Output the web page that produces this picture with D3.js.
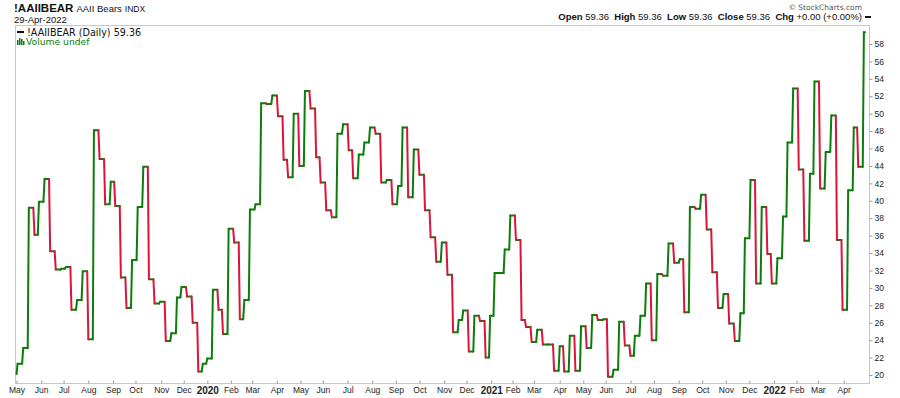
<!DOCTYPE html>
<html>
<head>
<meta charset="utf-8">
<script src="https://cdn.jsdelivr.net/npm/d3@7"></script>
<style>
  html, body { margin: 0; padding: 0; background: #fff; }
  svg { display: block; }
</style>
</head>
<body>
<svg id="chart" width="900" height="398"></svg>
<script>
// ---------------- DATA ----------------
const firstDate = "2019-05-01";
const firstValue = 20.1;
const weekStart = "2019-05-02";   // AAII survey Thursdays
const lastDate = "2022-04-29";
const bearValues = [
  21.3, 23.1, 39.2, 36.1, 39.9, 42.5, 34.2, 32.1, 32.2, 32.4,
  27.5, 28.6, 31.9, 24.1, 48.1, 44.8, 39.6, 42.2, 39.4, 31.2,
  27.7, 33.2, 39.3, 43.9, 31.0, 28.2, 28.4, 23.9, 24.8, 28.9,
  30.1, 29.0, 26.0, 20.4, 21.3, 21.9, 29.8, 27.5, 24.7, 36.8,
  35.2, 26.4, 28.6, 39.0, 39.6, 51.2, 51.1, 52.1, 49.7, 44.7,
  42.7, 50.0, 44.0, 52.6, 50.6, 45.0, 42.1, 38.9, 38.1, 47.7,
  48.8, 45.8, 42.6, 45.3, 46.7, 48.4, 47.7, 42.1, 42.4, 39.6,
  41.7, 48.4, 40.4, 45.9, 43.0, 38.9, 35.8, 33.0, 35.2, 31.5,
  24.9, 26.3, 27.4, 22.7, 26.8, 26.2, 22.0, 26.8, 31.7, 31.7,
  34.4, 38.3, 35.5, 26.3, 25.5, 23.8, 25.2, 23.5, 23.5, 20.5,
  23.3, 20.4, 24.5, 20.5, 25.6, 23.1, 26.9, 26.3, 26.4, 19.8,
  20.6, 26.1, 23.4, 22.2, 24.5, 26.8, 30.5, 24.0, 31.6, 31.4,
  35.1, 32.9, 33.3, 27.2, 39.3, 39.1, 40.7, 36.7, 31.8, 27.7,
  29.3, 25.9, 23.9, 27.1, 35.7, 42.4, 30.5, 39.3, 33.9, 30.5,
  33.4, 38.2, 46.7, 52.9, 43.6, 35.4, 43.1, 53.7, 41.4, 45.6,
  49.8, 35.5, 27.5, 41.2, 48.4, 43.9, 59.36
];
const holidays = ["2019-05-27","2019-07-04","2019-09-02","2019-11-28","2019-12-25",
  "2020-01-01","2020-01-20","2020-02-17","2020-04-10","2020-05-25","2020-07-03",
  "2020-09-07","2020-11-26","2020-12-25","2021-01-01","2021-01-18","2021-02-15",
  "2021-04-02","2021-05-31","2021-07-05","2021-09-06","2021-11-25","2021-12-24",
  "2022-01-17","2022-02-21","2022-04-15"];
const monthLabels = ["May","Jun","Jul","Aug","Sep","Oct","Nov","Dec",
  "2020","Feb","Mar","Apr","May","Jun","Jul","Aug","Sep","Oct","Nov","Dec",
  "2021","Feb","Mar","Apr","May","Jun","Jul","Aug","Sep","Oct","Nov","Dec",
  "2022","Feb","Mar","Apr"];
const yTicks = d3.range(20, 59, 2);

// ---------------- HELPERS ----------------
const parse = d3.timeParse("%Y-%m-%d");
const fmt = d3.timeFormat("%Y-%m-%d");
const holidaySet = new Set(holidays);
const tradingDays = d3.timeDay.range(parse(firstDate), d3.timeDay.offset(parse(lastDate), 1))
  .filter(d => d.getDay() !== 0 && d.getDay() !== 6 && !holidaySet.has(fmt(d)));
const tdTimes = tradingDays.map(d => +d);
function idxOf(d) { return Math.max(0, d3.bisectRight(tdTimes, +d) - 1); }
const lastIdx = tradingDays.length - 1;

const points = [{ idx: 0, v: firstValue }].concat(
  bearValues.map((v, i) => ({ idx: idxOf(d3.timeDay.offset(parse(weekStart), 7 * i)), v }))
);

// ---------------- LAYOUT ----------------
const svg = d3.select("#chart");
const plot = { left: 15, right: 869, top: 25, bottom: 383 };
const x = d3.scaleLinear().domain([0, lastIdx]).range([16.5, 865]);
const y = d3.scaleLinear().domain([20, 58]).range([375, 44]);
const GREEN = "#0b7d0b", RED = "#dc143c";

// frame
svg.append("rect")
  .attr("x", plot.left + 0.5).attr("y", plot.top + 0.5)
  .attr("width", plot.right - plot.left).attr("height", plot.bottom - plot.top)
  .attr("fill", "none").attr("stroke", "#c8c8c8").attr("stroke-width", 1);

// ---------------- LINE ----------------
const line = d3.line().x(d => x(d[0])).y(d => y(d[1]));
const segs = [];
for (let k = 0; k < points.length; k++) {
  const a = points[k];
  const b = points[k + 1];
  const endIdx = b ? b.idx - 1 : lastIdx;
  if (endIdx > a.idx) segs.push({ pts: [[a.idx, a.v], [endIdx, a.v]], c: GREEN });
  if (b) segs.push({ pts: [[Math.max(a.idx, b.idx - 1), a.v], [b.idx, b.v]], c: b.v >= a.v ? GREEN : RED });
}
const gLine = svg.append("g");
gLine.selectAll("path").data(segs).join("path")
  .attr("d", d => line(d.pts))
  .attr("fill", "none")
  .attr("stroke", d => d.c)
  .attr("stroke-width", 2)
  .attr("stroke-linecap", "round")
  .attr("stroke-linejoin", "round");
// draw red segments on top
gLine.selectAll("path").filter(d => d.c === RED).raise();

// ---------------- AXES ----------------
const yAxis = d3.axisRight(y).tickValues(yTicks).tickSize(3).tickPadding(2);
const gy = svg.append("g").attr("transform", `translate(${plot.right + 0.5},0)`).call(yAxis);
gy.select(".domain").remove();
gy.selectAll(".tick line").attr("stroke", "#999");
gy.selectAll(".tick text").attr("font-family", "Liberation Sans, Arial, sans-serif")
  .attr("font-size", 8.5).attr("fill", "#222");

const monthStarts = d3.timeMonth.range(parse("2019-05-01"), parse("2022-04-30"))
  .map(m => idxOf(d3.timeDay.offset(m, -1)) + (m.getTime() === parse(firstDate).getTime() ? 0 : 1));
const xAxis = d3.axisBottom(x).tickValues(monthStarts)
  .tickFormat((d, i) => monthLabels[i]).tickSize(3).tickPadding(2);
const gx = svg.append("g").attr("transform", `translate(0,${plot.bottom + 0.5})`).call(xAxis);
gx.select(".domain").remove();
gx.selectAll(".tick line").attr("stroke", "#999").attr("y2", -3);
gx.selectAll(".tick text")
  .attr("font-family", "Liberation Sans, Arial, sans-serif")
  .attr("font-size", (d, i) => /^\d{4}$/.test(monthLabels[i]) ? 10 : 8.5)
  .attr("font-weight", (d, i) => /^\d{4}$/.test(monthLabels[i]) ? "bold" : "normal")
  .attr("fill", "#222")
  .attr("dy", "0.55em");

// ---------------- HEADER ----------------
const sans = "Liberation Sans, Arial, sans-serif";
const t1 = svg.append("text").attr("x", 14).attr("y", 12).attr("font-family", sans).attr("fill", "#111");
t1.append("tspan").attr("font-weight", "bold").attr("font-size", 11.5).text("!AAIIBEAR");
t1.append("tspan").attr("font-size", 9.5).attr("dx", 3).text("AAII Bears");
t1.append("tspan").attr("font-size", 8.5).attr("dx", 3).text("INDX");
svg.append("text").attr("x", 14).attr("y", 23).attr("font-family", sans).attr("font-size", 9.5)
  .attr("fill", "#111").text("29-Apr-2022");

svg.append("text").attr("x", 862).attr("y", 10).attr("text-anchor", "end")
  .attr("font-family", "DejaVu Sans, sans-serif").attr("font-size", 7.5).attr("fill", "#555")
  .text("\u00A9 StockCharts.com");

const hdr = svg.append("text").attr("x", 862).attr("y", 20).attr("text-anchor", "end")
  .attr("font-family", sans).attr("font-size", 9.5).attr("fill", "#111");
[["Open", " 59.36  "], ["High", " 59.36  "], ["Low", " 59.36  "], ["Close", " 59.36  "], ["Chg", " +0.00 (+0.00%)"]]
  .forEach(([k, v]) => {
    hdr.append("tspan").attr("font-weight", "bold").text(k);
    hdr.append("tspan").attr("xml:space", "preserve").style("white-space", "pre").text(v);
  });
svg.append("line").attr("x1", 865).attr("x2", 871).attr("y1", 17).attr("y2", 17)
  .attr("stroke", "#111").attr("stroke-width", 2);

// legend
svg.append("line").attr("x1", 17).attr("x2", 24).attr("y1", 32).attr("y2", 32)
  .attr("stroke", "#111").attr("stroke-width", 2);
svg.append("text").attr("x", 27).attr("y", 35.5).attr("font-family", "DejaVu Sans, sans-serif")
  .attr("font-size", 9.6).attr("fill", "#111").text("!AAIIBEAR (Daily) 59.36");
const icon = svg.append("g").attr("fill", GREEN);
[[17, 40, 5], [19, 38, 7], [21, 39, 6], [23, 41, 4]].forEach(([ix, iy, h]) =>
  icon.append("rect").attr("x", ix).attr("y", iy).attr("width", 1.5).attr("height", h));
svg.append("text").attr("x", 26).attr("y", 45).attr("font-family", "DejaVu Sans, sans-serif")
  .attr("font-size", 9.2).attr("fill", GREEN).text("Volume undef");
</script>
</body>
</html>
